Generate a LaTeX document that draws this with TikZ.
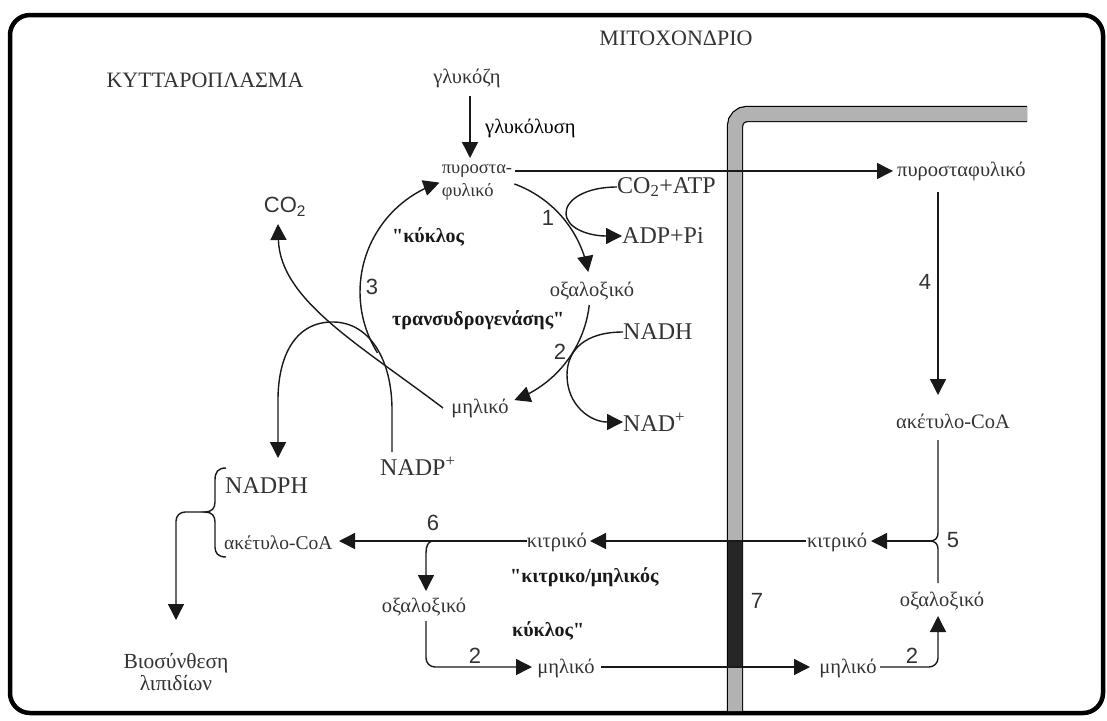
\documentclass[tikz,border=0pt]{standalone}
\usepackage{fontspec}
\setmainfont{Liberation Serif}
\newfontfamily\sansf{Liberation Sans}
\usetikzlibrary{arrows.meta,calc}
\font\qfb="Liberation Serif/B" at 20pt
\newcommand{\qq}{{\qfb\char34}}
\tikzset{
 lab/.style={inner sep=0pt, text=black!80, font=\fontsize{20.5}{24}\selectfont},
 titlelab/.style={lab, font=\fontsize{22}{26}\selectfont},
 boldlab/.style={lab, font=\fontsize{20}{24}\selectfont\bfseries, text=black!90},
 chem/.style={lab, font=\fontsize{24}{28}\selectfont},
 num/.style={lab, font=\sansf\fontsize{22}{26}\selectfont},
 conn/.style={line width=1.4pt, draw=black!90},
 arr/.style={conn, -{Triangle[length=16pt,width=16pt]}},
}
\begin{document}
\begin{tikzpicture}[x=1pt,y=-1pt]
\useasboundingbox (0,0) rectangle (1107,720);
% frame
\draw[line width=4.5pt, rounded corners=20pt] (10,15) rectangle (1103,713);
% membrane
\draw[line width=1.2pt, double=gray!60, double distance=14pt, rounded corners=12pt] (735,711) -- (735,114) -- (1027,114);
\fill[black!85] (728.2,541) rectangle (741.8,667);

% labels
\node[titlelab] (cyt) at (205,80) {ΚΥΤΤΑΡΟΠΛΑΣΜΑ};
\node[titlelab] (mito) at (676,38) {ΜΙΤΟΧΟΝΔΡΙΟ};
\node[lab] (glu) at (467,78) {γλυκόζη};
\node[lab,anchor=west,text=black] (glyc) at (485,128) {γλυκόλυση};
\node[lab,align=left,font=\fontsize{18.5}{23}\selectfont] (pyr) at (477,182) {πυροστα-\\φυλικό};
\node[lab,font=\sansf\fontsize{22}{26}\selectfont] (co2) at (285,207) {CO\textsubscript{2}};
\node[boldlab,anchor=west] (kyk) at (392,237) {\qq κύκλος};
\node[num] (n1) at (548,218) {1};
\node[chem,anchor=west] (co2atp) at (617,187) {CO\textsubscript{2}+ATP};
\node[chem,anchor=west] (adp) at (622,236) {ADP+Pi};
\node[lab] (oxa1) at (592,291) {οξαλοξικό};
\node[num] (n3) at (372,287) {3};
\node[boldlab,anchor=west] (trans) at (392,320) {τρανσυδρογενάσης\qq};
\node[chem,anchor=west] (nadh) at (623,332) {NADH};
\node[num] (n2a) at (560,352) {2};
\node[lab] (mal1) at (480,408) {μηλικό};
\node[chem,anchor=west] (nad) at (623,422) {NAD\textsuperscript{+}};
\node[chem,anchor=west] (nadp) at (380,466) {NADP\textsuperscript{+}};
\node[chem,anchor=west] (nadph) at (225,486) {NADPH};
\node[lab,anchor=west,font=\fontsize{19.5}{24}\selectfont] (acl) at (224,543) {ακέτυλο-CoA};
\node[lab,align=center,font=\fontsize{21.5}{22}\selectfont] (bio) at (176,672) {Βιοσύνθεση\\λιπιδίων};
\node[num] (n6) at (433,523) {6};
\node[lab,anchor=east] (citl) at (587,542) {κιτρικό};
\node[boldlab,anchor=west] (kmk) at (510,577) {\qq κιτρικο/μηλικός};
\node[lab] (oxa2) at (424,607) {οξαλοξικό};
\node[boldlab,anchor=west] (kyk2) at (512,631) {κύκλος\qq};
\node[lab] (mal2) at (566,668) {μηλικό};
\node[num] (n2b) at (475,656) {2};
\node[num] (n7) at (757,601) {7};
\node[lab] (mal3) at (848,668) {μηλικό};
\node[num] (n2c) at (912,656) {2};
\node[lab] (oxa3) at (942,601) {οξαλοξικό};
\node[lab] (citr) at (837,542) {κιτρικό};
\node[num] (n5) at (953,540) {5};
\node[lab] (acr) at (953,421) {ακέτυλο-CoA};
\node[num] (n4) at (925,282) {4};
\node[lab,anchor=west] (pyrr) at (897,171) {πυροσταφυλικό};

% connectors
\draw[arr] (470,96) -- (470,158);
\draw[arr] (515,171) -- (893,171);
\draw[arr] (938,192) -- (938,395);
\draw[conn] (938,440) -- (938,533) .. controls (938,538) and (935,541) .. (930,541)
   .. controls (935,541) and (938,544) .. (938,549) -- (938,583);
\draw[arr] (930,541) -- (871,541);
\draw[arr] (806,541) -- (590,541);
\draw[arr] (527,541) -- (339,541);
\draw[arr] (432,541) .. controls (428,542) and (426,546) .. (426,553) -- (426,591);
\draw[arr, rounded corners=9pt] (426,621) -- (426,667) -- (532,667);
\draw[arr] (601,667) -- (810,667);
\draw[arr, rounded corners=9pt] (880,667) -- (938,667) -- (938,616);
% brace
\draw[conn] (226,468) .. controls (218,468) and (215,472) .. (215,480) -- (215,502)
   .. controls (215,508) and (212,512) .. (205,512)
   .. controls (212,512) and (215,516) .. (215,522) -- (215,547)
   .. controls (215,553) and (218,557) .. (226,557);
\draw[arr, rounded corners=9pt] (205,512) -- (176,512) -- (176,620);
% cycle
\draw[arr] plot[domain=70:10, samples=40] ({475+115*cos(\x)}, {292-115*sin(\x)});
\draw[arr] plot[domain=-6.5:-70, samples=40] ({475+115*cos(\x)}, {292-115*sin(\x)});
\draw[arr] plot[domain=212:108, samples=40] ({475+115*cos(\x)}, {292-115*sin(\x)});
% malate -> CO2
\draw[arr] (443,408) .. controls (360,345) and (280,300) .. (278,224);
% NADP+ -> NADPH
\draw[arr] (392,452) -- (392,410) .. controls (392,360) and (370,323) .. (334,322)
   .. controls (296,321) and (278,355) .. (278,400) -- (278,458);
% CO2+ATP / ADP+Pi
\draw[arr] (617,187) .. controls (585,187) and (566,200) .. (566,213)
   .. controls (566,228) and (588,236) .. (622,236);
% NADH / NAD+
\draw[arr] (623,332) .. controls (585,332) and (567,350) .. (567,375)
   .. controls (567,405) and (590,422) .. (623,422);
\end{tikzpicture}
\end{document}
